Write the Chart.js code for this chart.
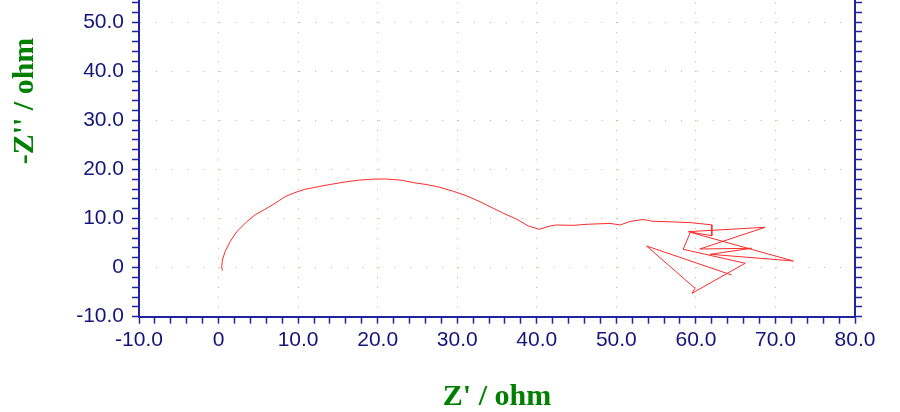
<!DOCTYPE html>
<html>
<head>
<meta charset="utf-8">
<script src="https://cdn.jsdelivr.net/npm/chart.js@4.4.1/dist/chart.umd.min.js"></script>
<style>
  html, body { margin: 0; padding: 0; background: #ffffff; }
  #wrap { width: 900px; height: 412px; position: relative; overflow: hidden; }
  canvas { display: block; }
</style>
</head>
<body>
<div id="wrap"><canvas id="c" width="900" height="412"></canvas></div>
<script>
// ---- data ----
const zReal = [0.48, 0.40, 0.48, 0.82, 1.45, 2.29, 3.54, 4.59, 5.85, 7.10, 8.36, 9.60, 10.87, 12.55, 14.20, 15.90, 17.57, 19.25, 20.93,
  23.0, 24.5, 26.2, 27.8, 29.5, 31.2, 32.9, 34.5, 35.8, 37.5, 38.9, 40.3, 41.7, 42.5, 44.6, 46.3, 48.4, 49.2, 50.5, 51.7, 53.4, 54.5,
  57.2, 59.4, 62.0, 62.0, 59.05, 68.7, 60.5, 67.0, 61.8, 72.25, 59.3, 58.4, 66.2, 59.5, 59.9, 53.8, 64.5];
const zImagNeg = [-0.63, 0.20, 1.55, 3.25, 5.28, 7.32, 9.35, 10.72, 11.88, 13.10, 14.45, 15.27, 15.96, 16.49, 16.97, 17.44, 17.79, 18.00, 18.06,
  17.8, 17.3, 16.9, 16.36, 15.55, 14.6, 13.4, 12.1, 11.07, 9.84, 8.5, 7.8, 8.48, 8.68, 8.6, 8.82, 8.95, 9.0, 8.68, 9.4, 9.8, 9.45,
  9.3, 9.15, 8.7, 6.5, 7.32, 8.21, 3.79, 3.93, 2.71, 1.35, 7.19, 3.73, 0.88, -5.24, -4.22, 4.4, -1.51];

const xMajorTicks = [-10, 0, 10, 20, 30, 40, 50, 60, 70, 80];
const yMajorTicks = [-10, 0, 10, 20, 30, 40, 50];
const xRange = [-10, 80];
const yRange = [-10, 54.5];
const minorStep = 2;
const X_TITLE = "Z' / ohm";
const Y_TITLE = "-Z'' / ohm";

// ---- styles ----
const AXIS = '#2323a0';
const TICKTXT = '#14147a';
const GRIDDOT = '#b9b98a';
const GREEN = '#008000';

function minorTicks(lo, hi) {
  const out = [];
  for (let v = lo; v <= hi + 1e-9; v += minorStep) out.push({ value: v });
  return out;
}
function isMajor(v, majors) { return majors.some(m => Math.abs(m - v) < 1e-9); }
function fmt(v) { return v === 0 ? '0' : v.toFixed(1); }

const points = zReal.map((x, i) => ({ x: x, y: zImagNeg[i] }));

const yTitlePlugin = {
  id: 'yTitle',
  afterDraw(chart) {
    const ctx = chart.ctx;
    ctx.save();
    ctx.translate(chart.chartArea.left - 106, 101);
    ctx.rotate(-Math.PI / 2);
    ctx.font = 'bold 30px "Liberation Serif", "Times New Roman", serif';
    ctx.fillStyle = GREEN;
    ctx.textAlign = 'center';
    ctx.textBaseline = 'alphabetic';
    ctx.fillText(Y_TITLE, 0, 0);
    ctx.restore();
  }
};

const tickFont = { family: '"Liberation Sans", Arial, sans-serif', size: 21 };

new Chart(document.getElementById('c'), {
  type: 'scatter',
  data: {
    datasets: [{
      data: points,
      showLine: true,
      borderColor: '#ff2a2a',
      borderWidth: 1,
      pointRadius: 0,
      pointHoverRadius: 0,
      tension: 0,
      fill: false
    }]
  },
  options: {
    responsive: false,
    animation: false,
    events: [],
    layout: { padding: 0 },
    plugins: { legend: { display: false }, tooltip: { enabled: false } },
    scales: {
      x: {
        type: 'linear',
        position: 'bottom',
        min: xRange[0], max: xRange[1],
        afterBuildTicks: s => { s.ticks = minorTicks(xRange[0], xRange[1]); },
        afterFit: s => { s.height = 95.3; s.paddingLeft = 0; s.paddingRight = 0; },
        ticks: {
          autoSkip: false, maxRotation: 0, minRotation: 0,
          color: TICKTXT, font: tickFont, padding: 4,
          callback: v => isMajor(v, xMajorTicks) ? fmt(v) : ''
        },
        grid: {
          drawOnChartArea: true,
          color: c => (c.tick && isMajor(c.tick.value, xMajorTicks)) ? GRIDDOT : 'rgba(0,0,0,0)',
          lineWidth: 1,
          tickLength: 7, tickWidth: 1.5, tickColor: AXIS
        },
        border: { display: true, color: AXIS, width: 2, dash: [1, 8.81], dashOffset: 7.36 },
        title: {
          display: true, text: X_TITLE, color: GREEN,
          font: { family: '"Liberation Serif", "Times New Roman", serif', size: 30, weight: 'bold' },
          padding: { top: 0, bottom: -3 }
        }
      },
      y: {
        type: 'linear',
        position: 'left',
        min: yRange[0], max: yRange[1],
        afterBuildTicks: s => { s.ticks = minorTicks(yRange[0], 54); },
        afterFit: s => { s.width = 139; s.paddingTop = 0; s.paddingBottom = 0; },
        ticks: {
          autoSkip: false, color: TICKTXT, font: tickFont, padding: 8,
          callback: v => isMajor(v, yMajorTicks) ? fmt(v) : ''
        },
        grid: {
          drawOnChartArea: true,
          color: c => (c.tick && isMajor(c.tick.value, yMajorTicks)) ? GRIDDOT : 'rgba(0,0,0,0)',
          lineWidth: 1,
          tickLength: 7, tickWidth: 1.5, tickColor: AXIS
        },
        border: { display: true, color: AXIS, width: 2, dash: [1, 14.91], dashOffset: 0 }
      },
      y2: {
        type: 'linear',
        position: 'right',
        min: yRange[0], max: yRange[1],
        afterBuildTicks: s => { s.ticks = minorTicks(yRange[0], 54); },
        afterFit: s => { s.width = 45; s.paddingTop = 0; s.paddingBottom = 0; },
        ticks: { display: false },
        grid: { drawOnChartArea: false, tickLength: 7, tickWidth: 1.5, tickColor: AXIS },
        border: { display: true, color: AXIS, width: 2 }
      }
    }
  },
  plugins: [yTitlePlugin]
});
</script>
</body>
</html>
